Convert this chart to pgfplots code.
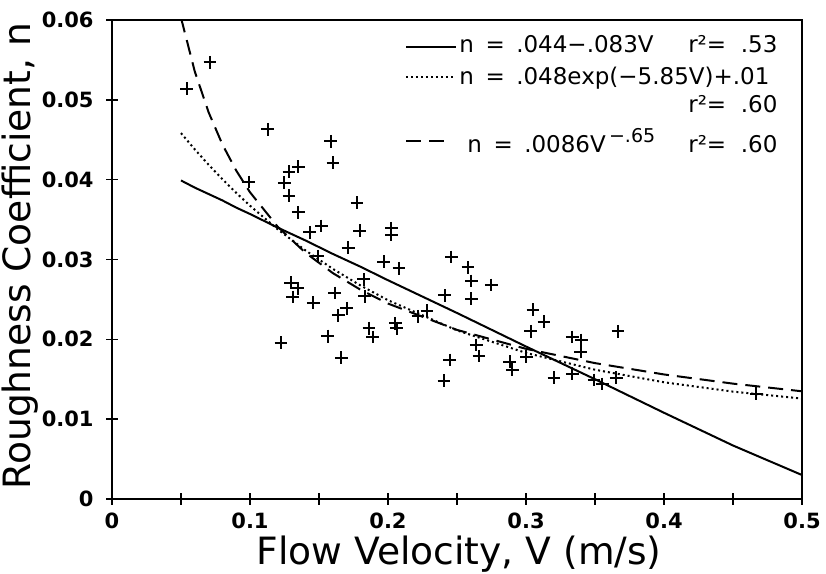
\documentclass[border=0pt]{standalone}
\usepackage{fontspec}
\setmainfont{DejaVu Sans}
\usepackage{pgfplots}
\pgfplotsset{compat=1.18}
\pgfplotsset{
    longleg/.style={legend image code/.code={\draw[##1] (0pt,0pt) -- (25pt,0pt);}},
    shortleg/.style={legend image code/.code={\draw[##1] (0pt,0pt) -- (19pt,0pt);}},
}
% legend text box with set height and depth
\newcommand{\lbox}[3]{\raisebox{0pt}[#1][#2]{#3}}

\pgfplotstableread{
V n
0.0541 0.0514
0.0710 0.0547
0.0992 0.0397
0.1127 0.0463
0.1224 0.0196
0.1248 0.0396
0.1282 0.0410
0.1282 0.0380
0.1296 0.0271
0.1308 0.0253
0.1345 0.0264
0.1349 0.0416
0.1349 0.0359
0.1434 0.0334
0.1458 0.0246
0.1490 0.0304
0.1518 0.0342
0.1562 0.0204
0.1586 0.0448
0.1602 0.0421
0.1615 0.0258
0.1639 0.0230
0.1663 0.0177
0.1700 0.0239
0.1711 0.0315
0.1776 0.0371
0.1796 0.0336
0.1825 0.0275
0.1832 0.0254
0.1863 0.0214
0.1888 0.0203
0.1970 0.0297
0.2025 0.0339
0.2025 0.0331
0.2054 0.0220
0.2062 0.0214
0.2080 0.0289
0.2218 0.0229
0.2283 0.0236
0.2406 0.0148
0.2411 0.0255
0.2447 0.0174
0.2460 0.0303
0.2580 0.0290
0.2605 0.0273
0.2605 0.0251
0.2640 0.0193
0.2660 0.0179
0.2749 0.0268
0.2882 0.0172
0.2901 0.0162
0.3003 0.0178
0.3034 0.0210
0.3051 0.0237
0.3130 0.0222
0.3203 0.0152
0.3336 0.0203
0.3336 0.0157
0.3396 0.0184
0.3401 0.0199
0.3493 0.0149
0.3553 0.0144
0.3654 0.0152
0.3666 0.0210
0.4668 0.0132
}\obs

% fitted curves, values read at fixed V
\pgfplotstableread{
V lin expo pow
0.05 0.0399 0.04583 0.06028
0.06 0.0390 0.04379 0.05354
0.07 0.0382 0.04187 0.04844
0.08 0.0374 0.04006 0.04441
0.09 0.0365 0.03835 0.04114
0.10 0.0357 0.03674 0.03842
0.12 0.0340 0.03379 0.03412
0.14 0.0324 0.03116 0.03087
0.16 0.0307 0.02883 0.02830
0.18 0.0291 0.02675 0.02622
0.20 0.0274 0.02490 0.02448
0.25 0.0233 0.02112 0.02118
0.30 0.0191 0.01830 0.01881
0.35 0.0150 0.01619 0.01702
0.40 0.0108 0.01462 0.01560
0.45 0.0067 0.01345 0.01445
0.50 0.0030 0.01258 0.01349
}\fits

\begin{document}
\begin{tikzpicture}
\begin{axis}[
    scale only axis,
    width=345pt, height=239.5pt,
    xmin=0, xmax=0.5, ymin=0, ymax=0.06,
    scaled x ticks=false, scaled y ticks=false,
    xtick={0,0.1,0.2,0.3,0.4,0.5},
    xticklabels={0,0.1,0.2,0.3,0.4,0.5},
    minor xtick={0.05,0.15,0.25,0.35,0.45},
    ytick={0,0.01,0.02,0.03,0.04,0.05,0.06},
    yticklabels={0,0.01,0.02,0.03,0.04,0.05,0.06},
    tick pos=left,
    tick align=center,
    major tick length=6pt, minor tick length=6pt,
    tick style={black, line width=0.8pt},
    axis line style={line width=1pt},
    ticklabel style={font=\fontsize{10.5}{12}\selectfont\bfseries},
    xticklabel style={anchor=center, inner sep=0pt, yshift=-8pt},
    yticklabel style={anchor=east, inner sep=0pt, xshift=-6pt},
    xlabel={Flow Velocity, V (m/s)},
    ylabel={Roughness Coefficient, n},
    label style={font=\fontsize{18.8}{22}\selectfont},
    xlabel style={at={(axis description cs:0.503,-0.115)}, anchor=center},
    ylabel style={at={(axis description cs:-0.133,0.507)}, anchor=center},
    longleg,
    legend style={at={(axis description cs:0.965,0.974)}, anchor=north east,
        draw=none, fill=none, inner sep=0pt, row sep=0pt,
        font=\fontsize{11.5}{13}\selectfont,
        nodes={inner sep=0pt, text height=, text depth=}},
    legend cell align=left,
]
\addplot[only marks, mark=+, mark size=3.2pt, mark options={line width=1pt}, forget plot]
    table[x=V, y=n] {\obs};
\addplot[black, line width=1pt] table[x=V, y=lin] {\fits};
\addlegendentry{\lbox{10pt}{4pt}{\makebox[160pt][l]{\hspace{1pt}n\enspace=\enspace.044−.083V\hfill r²= \ .53}}}
\addplot[black, line width=1pt, dash pattern=on 1pt off 1.5pt] table[x=V, y=expo] {\fits};
\addlegendentry{\lbox{12pt}{4pt}{\makebox[160pt][l]{\hspace{1pt}n\enspace=\enspace.048exp(−5.85V)+.01}}}
\addlegendimage{empty legend}
\addlegendentry{\lbox{10pt}{6pt}{\makebox[160pt][r]{r²= \ .60}}}
\addplot[black, line width=1pt, dash pattern=on 7.5pt off 4pt, shortleg] table[x=V, y=pow] {\fits};
\addlegendentry{\lbox{14pt}{2pt}{\makebox[160pt][l]{\hspace{5pt}n\enspace=\enspace.0086V\raisebox{0.8ex}{\fontsize{9.5}{9.5}\selectfont\,−.65}\hfill r²= \ .60}}}
\end{axis}
\pgfresetboundingbox
\path[use as bounding box] ([xshift=-56pt,yshift=-37.5pt]current axis.south west)
    rectangle ([xshift=12pt,yshift=10pt]current axis.north east);
\end{tikzpicture}
\end{document}
